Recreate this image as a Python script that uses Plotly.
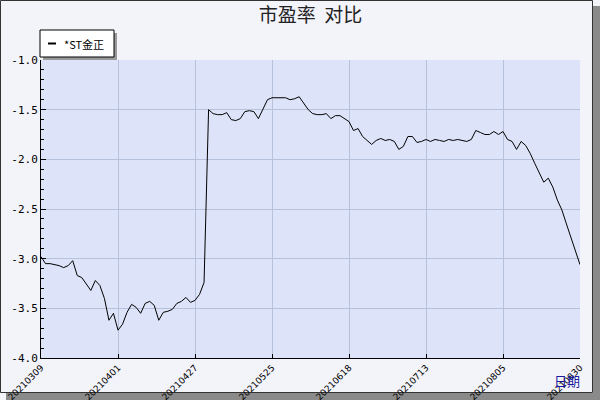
import plotly.graph_objects as go

# trading days, 2021-03-09 .. 2021-08-30
march = ["09", "10", "11", "12", "15", "16", "17", "18", "19", "22", "23", "24", "25", "26", "29", "30", "31"]
april = ["01", "02", "06", "07", "08", "09", "12", "13", "14", "15", "16", "19", "20", "21", "22", "23", "26", "27", "28", "29", "30"]
may = ["06", "07", "10", "11", "12", "13", "14", "17", "18", "19", "20", "21", "24", "25", "26", "27", "28", "31"]
june = ["01", "02", "03", "04", "07", "08", "09", "10", "11", "15", "16", "17", "18", "21", "22", "23", "24", "25", "28", "29", "30"]
july = ["01", "02", "05", "06", "07", "08", "09", "12", "13", "14", "15", "16", "19", "20", "21", "22", "23", "26", "27", "28", "29", "30"]
august = ["02", "03", "04", "05", "06", "09", "10", "11", "12", "13", "16", "17", "18", "19", "20", "23", "24", "25", "26", "27", "30"]

dates = (
    ["202103" + d for d in march]
    + ["202104" + d for d in april]
    + ["202105" + d for d in may]
    + ["202106" + d for d in june]
    + ["202107" + d for d in july]
    + ["202108" + d for d in august]
)

pe_ratio = [
    -2.98, -3.05, -3.05, -3.06, -3.07, -3.09, -3.07, -3.02, -3.17, -3.19,
    -3.26, -3.32, -3.22, -3.27, -3.40, -3.62, -3.55, -3.72, -3.66, -3.54,
    -3.46, -3.49, -3.55, -3.45, -3.43, -3.47, -3.62, -3.54, -3.53, -3.51,
    -3.45, -3.43, -3.39, -3.44, -3.42, -3.36, -3.24, -1.50, -1.54, -1.55,
    -1.55, -1.53, -1.60, -1.61, -1.59, -1.52, -1.51, -1.52, -1.59, -1.49,
    -1.40, -1.38, -1.38, -1.38, -1.38, -1.40, -1.39, -1.37, -1.44, -1.50,
    -1.54, -1.55, -1.55, -1.54, -1.59, -1.56, -1.56, -1.59, -1.62, -1.71,
    -1.69, -1.77, -1.81, -1.85, -1.81, -1.79, -1.81, -1.80, -1.82, -1.90,
    -1.87, -1.77, -1.77, -1.83, -1.82, -1.80, -1.82, -1.80, -1.81, -1.82,
    -1.80, -1.81, -1.80, -1.81, -1.82, -1.80, -1.71, -1.73, -1.75, -1.75,
    -1.72, -1.75, -1.72, -1.80, -1.82, -1.90, -1.82, -1.86, -1.94, -2.04,
    -2.13, -2.23, -2.19, -2.28, -2.41, -2.51, -2.65, -2.78, -2.92, -3.06,
]

tick_dates = dates[::17]
y_ticks = [-1.0, -1.5, -2.0, -2.5, -3.0, -3.5, -4.0]

# plot area in pixels: x 41..580, y 60..358
L, R, T, B = 41, 580, 60, 358


def px_x(p):
    return (p - L) / (R - L)


def px_y(p):
    return (B - p) / (B - T)


fig = go.Figure()
fig.add_trace(go.Scatter(
    x=dates,
    y=pe_ratio,
    mode="lines",
    name="*ST金正",
    line=dict(color="black", width=1),
))

shapes = [
    # frame shadow and border
    dict(type="rect", xref="paper", yref="paper", layer="below",
         x0=px_x(593), x1=px_x(600), y0=px_y(6), y1=px_y(400),
         fillcolor="#8a8a8a", line=dict(width=0)),
    dict(type="rect", xref="paper", yref="paper", layer="below",
         x0=px_x(6), x1=px_x(600), y0=px_y(393), y1=px_y(400),
         fillcolor="#8a8a8a", line=dict(width=0)),
    dict(type="rect", xref="paper", yref="paper", layer="below",
         x0=px_x(0.5), x1=px_x(592.5), y0=px_y(0.5), y1=px_y(392.5),
         line=dict(color="#333333", width=1)),
    # legend box
    dict(type="rect", xref="paper", yref="paper",
         x0=px_x(43), x1=px_x(117), y0=px_y(33), y1=px_y(60),
         fillcolor="#9a9a9a", line=dict(width=0)),
    dict(type="rect", xref="paper", yref="paper",
         x0=px_x(40), x1=px_x(114), y0=px_y(30), y1=px_y(57),
         fillcolor="white", line=dict(color="black", width=1)),
    dict(type="line", xref="paper", yref="paper",
         x0=px_x(48), x1=px_x(56), y0=px_y(43.5), y1=px_y(43.5),
         line=dict(color="black", width=2)),
]

annotations = [
    dict(text="*ST金正", xref="paper", yref="paper", x=px_x(62), y=px_y(43.5),
         xanchor="left", yanchor="middle", showarrow=False,
         font=dict(family="Noto Sans CJK SC", size=11, color="black")),
    dict(text="日期", xref="paper", yref="paper", x=px_x(582), y=px_y(380),
         xanchor="right", yanchor="middle", showarrow=False,
         font=dict(family="Noto Sans CJK SC", size=13, color="#1a1aa0")),
]

fig.update_layout(
    width=600,
    height=400,
    margin=dict(l=L, r=600 - R, t=T, b=400 - B, autoexpand=False),
    title=dict(text="市盈率\u00a0\u00a0对比", x=0.5, xref="paper", xanchor="center",
               y=1 - 15 / 400, yref="container", yanchor="middle",
               font=dict(family="Noto Sans CJK SC", size=19, color="#222222")),
    paper_bgcolor="#f3f3fa",
    plot_bgcolor="#dde3f8",
    showlegend=False,
    shapes=shapes,
    annotations=annotations,
    xaxis=dict(
        type="category",
        automargin=False,
        range=[0, len(dates) - 1],
        tickvals=tick_dates,
        ticktext=tick_dates,
        tickangle=-45,
        tickfont=dict(family="DejaVu Sans", size=9, color="black"),
        showgrid=True,
        gridcolor="#b6c1db",
        gridwidth=1,
        showline=True,
        linecolor="black",
        linewidth=1,
        ticks="inside",
        ticklen=4,
        tickcolor="black",
        zeroline=False,
    ),
    yaxis=dict(
        automargin=False,
        range=[-4.0, -1.0],
        tickvals=y_ticks,
        ticktext=[f"{v:.1f}" for v in y_ticks],
        tickfont=dict(family="DejaVu Sans Mono", size=11, color="black"),
        showgrid=True,
        gridcolor="#b6c1db",
        gridwidth=1,
        showline=True,
        linecolor="black",
        linewidth=1,
        ticks="inside",
        ticklen=5,
        tickcolor="black",
        minor=dict(dtick=0.1, ticks="inside", ticklen=3, tickcolor="black", showgrid=False),
        zeroline=False,
    ),
)

fig.write_html(
    "out.html",
    config={"displayModeBar": False},
    post_script="document.body.style.margin = '0';",
)
